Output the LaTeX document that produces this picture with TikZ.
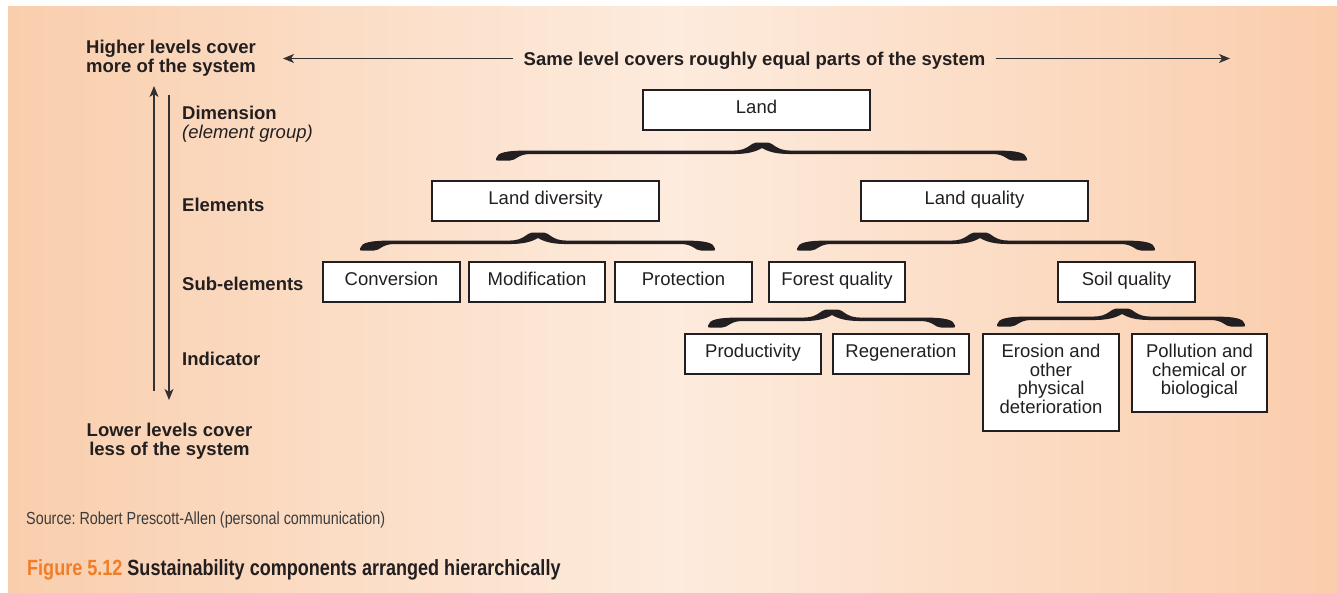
\documentclass[tikz,border=0pt]{standalone}
\usepackage{fontspec}
\setmainfont{Liberation Sans}
\newfontfamily\narrowfont[FakeStretch=0.82]{Liberation Sans}
\usetikzlibrary{arrows.meta,calc}
\frenchspacing
\definecolor{ink}{RGB}{35,31,32}
\definecolor{linecol}{RGB}{50,50,50}
\definecolor{peachL}{RGB}{249,206,173}
\definecolor{peachM}{RGB}{253,235,221}
\definecolor{peachR}{RGB}{250,205,172}
\definecolor{figorange}{RGB}{240,125,40}
\definecolor{srcgray}{RGB}{60,60,60}
\tikzset{
  braceL/.store in=\bl, braceR/.store in=\br, braceL=100, braceR=100,
  box/.style={draw=ink, line width=1.1pt, fill=white, inner xsep=0pt, inner ysep=0pt,
    text height=23.5pt, text depth=16.5pt, font=\fontsize{18.5}{18.7}\selectfont, text=ink},
  lbl/.style={font=\bfseries\fontsize{18.5}{19}\selectfont, text=ink, inner sep=0pt},
  arr/.style={draw=linecol, line width=1.2pt, -{Stealth[length=11pt,width=9pt,inset=3pt]}},
  bracepic/.pic={
    \def\bh{18}
    \fill[ink] (-6,0) -- (6,0)
      .. controls (11,0) and (14,-8) .. (28,-8)
      -- ({\br-32},-8)
      .. controls ({\br-10},-8) and ({\br-1},-10) .. (\br,{-\bh+2})
      .. controls (\br,-\bh) .. ({\br-2},-\bh)
      -- ({\br-14},-\bh)
      .. controls ({\br-20},-\bh) and ({\br-22},-11.5) .. ({\br-34},-11.5)
      -- (28,-11.5)
      .. controls (14,-11.5) and (6,-9) .. (0,-5.5)
      .. controls (-6,-9) and (-14,-11.5) .. (-28,-11.5)
      -- ({-\bl+34},-11.5)
      .. controls ({-\bl+22},-11.5) and ({-\bl+20},-\bh) .. ({-\bl+14},-\bh)
      -- ({-\bl+2},-\bh)
      .. controls (-\bl,-\bh) .. (-\bl,{-\bh+2})
      .. controls ({-\bl+1},-10) and ({-\bl+10},-8) .. ({-\bl+32},-8)
      -- (-28,-8)
      .. controls (-14,-8) and (-11,0) .. (-6,0) -- cycle;
  }
}
\begin{document}
\begin{tikzpicture}[x=1pt,y=1pt]
\useasboundingbox (0,0) rectangle (1337,-593);
\fill[white] (0,0) rectangle (1337,-593);
\shade[left color=peachL, right color=peachR, middle color=peachM] (8,-7) rectangle (1337,-593);

% top labels and arrows
\node[lbl, align=left, anchor=west] (higher) at (86,-58) {Higher levels cover\\more of the system};
\node[lbl, inner xsep=10pt, text depth=0pt] (same) at (754.5,-58.5) {Same level covers roughly equal parts of the system};
\coordinate (lefttip) at (283,-58.5);
\coordinate (righttip) at (1230,-58.5);
\draw[arr] (same.west) -- (lefttip);
\draw[arr] (same.east) -- (righttip);

% vertical arrows
\coordinate (upbot) at (154,-391);
\coordinate (uptop) at (154,-86);
\coordinate (dntop) at (169,-95);
\coordinate (dnbot) at (169,-400);
\draw[arr] (upbot) -- (uptop);
\draw[arr] (dntop) -- (dnbot);

% level labels
\node[lbl, align=left, anchor=west] (dim) at (182,-124) {Dimension\\{\mdseries\itshape (element group)}};
\node[lbl, anchor=west] (elem) at (182,-205) {Elements};
\node[lbl, anchor=west] (subel) at (182,-283.5) {Sub-elements};
\node[lbl, anchor=west] (indic) at (182,-358.5) {Indicator};
\node[lbl, align=center] (lower) at (169.5,-441.5) {Lower levels cover\\less of the system};

% boxes
\node[box, minimum width=227pt] (land) at (756.5,-110) {Land};
\node[box, minimum width=227pt] (ld) at (545.5,-201) {Land diversity};
\node[box, minimum width=227pt] (lq) at (974.5,-201) {Land quality};
\node[box, minimum width=137pt] (conv) at (391.5,-282) {Conversion};
\node[box, minimum width=136pt] (modi) at (537,-282) {Modification};
\node[box, minimum width=137pt] (prot) at (683.5,-282) {Protection};
\node[box, minimum width=136pt] (forest) at (837,-282) {Forest quality};
\node[box, minimum width=137pt] (soil) at (1126.5,-282) {Soil quality};
\node[box, minimum width=136pt] (prod) at (753,-354) {Productivity};
\node[box, minimum width=136pt] (regen) at (901,-354) {Regeneration};
\node[box, minimum width=136pt, text depth=73.5pt] (eros) at (1051,-382.5)
  {\parbox[t]{130pt}{\centering Erosion and\\other\\physical\\deterioration}};
\node[box, minimum width=135pt, text depth=54.5pt] (poll) at (1199.5,-373)
  {\parbox[t]{130pt}{\centering Pollution and\\chemical or\\biological}};

% braces
\pic[braceL=266, braceR=265] at ($(land.south)+(5.5,-12)$) {bracepic};
\pic[braceL=178, braceR=177] at ($(ld.south)+(-7.5,-11)$) {bracepic};
\pic[braceL=183, braceR=175] at ($(lq.south)+(5.5,-11)$) {bracepic};
\pic[braceL=124, braceR=123] at ($(forest.south)+(-5,-7)$) {bracepic};
\pic[braceL=125, braceR=123] at ($(soil.south)+(-4.5,-6)$) {bracepic};

% source and caption
\node[anchor=west, inner sep=0pt, font=\narrowfont\fontsize{17.5}{20}\selectfont, text=srcgray] (src) at (26,-520)
  {Source: Robert Prescott-Allen (personal communication)};
\node[anchor=west, inner sep=0pt, font=\narrowfont\bfseries\fontsize{22}{24}\selectfont, text=ink] (cap) at (27,-570)
  {\textcolor{figorange}{Figure 5.12} Sustainability components arranged hierarchically};
\end{tikzpicture}
\end{document}
